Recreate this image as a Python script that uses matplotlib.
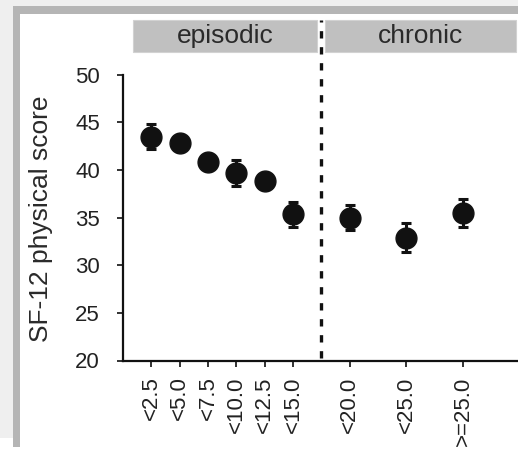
import matplotlib
matplotlib.use('Agg')
import matplotlib.pyplot as plt
from matplotlib.patches import Rectangle

plt.rcParams['font.family'] = ['Liberation Sans', 'DejaVu Sans']

# --- data ---
labels = ['<2.5', '<5.0', '<7.5', '<10.0', '<12.5', '<15.0', '<20.0', '<25.0', '>=25.0']
positions = [1, 2, 3, 4, 5, 6, 8, 10, 12]
scores = [43.5, 42.8, 40.8, 39.65, 38.85, 35.33, 35.0, 32.9, 35.5]
errors = [1.35, 0.7, 0.7, 1.35, 0.8, 1.3, 1.35, 1.55, 1.5]
groups = ['episodic', 'chronic']

W, H = 518, 449
fig = plt.figure(figsize=(W / 100, H / 100), dpi=100)
fig.patch.set_facecolor('white')

# page frame around the figure (light grey margin + darker border)
def px_rect(x0, y0, x1, y1, color):
    fig.patches.append(Rectangle((x0 / W, 1 - y1 / H), (x1 - x0) / W, (y1 - y0) / H,
                                 transform=fig.transFigure, color=color, lw=0, zorder=0))

px_rect(0, 0, W, 6, '#efefef')
px_rect(0, 0, 13, 438, '#efefef')
px_rect(13, 6, W, 14, '#b5b5b5')
px_rect(13, 6, 20, 447, '#b5b5b5')

# axes placement
ax_left, ax_top, ax_bottom = 123, 74.7, 360.5
unit = 28.33
ax = fig.add_axes([ax_left / W, 1 - ax_bottom / H, 1 - ax_left / W, (ax_bottom - ax_top) / H])
ax.set_xlim(0, (W - ax_left) / unit)
ax.set_ylim(20, 50)

ax.errorbar(positions, scores, yerr=errors, fmt='o', color='#111111', ms=15,
            mec='#111111', elinewidth=2.2, capsize=3.8, capthick=2.2, zorder=3)

ax.axvline(7, ymin=0.01, ymax=1.19, color='#111111', lw=2.4, dashes=(2.2, 2.6),
           clip_on=False, zorder=2)

# header strips
tr = ax.get_xaxis_transform()
strip_y0 = (ax_bottom - 52) / (ax_bottom - ax_top)
strip_y1 = (ax_bottom - 20) / (ax_bottom - ax_top)
strips = [(0.353, 6.85), (7.13, 13.87)]
for (x0, x1), name in zip(strips, groups):
    ax.add_patch(Rectangle((x0, strip_y0), x1 - x0, strip_y1 - strip_y0, transform=tr,
                           facecolor='#c0c0c0', edgecolor='#d2d2d2', lw=0.8,
                           clip_on=False, zorder=1))
    ax.text((x0 + x1) / 2, (strip_y0 + strip_y1) / 2, name, transform=tr,
            ha='center', va='center', fontsize=19, color='#2a2a2a')

ax.spines['top'].set_visible(False)
ax.spines['right'].set_visible(False)
for s in ['left', 'bottom']:
    ax.spines[s].set_linewidth(1.6)
    ax.spines[s].set_color('#111111')

ax.set_yticks(range(20, 51, 5))
ax.set_xticks(positions)
ax.set_xticklabels(labels, rotation=90)
ax.tick_params(axis='y', length=4.5, width=1.3, pad=12, labelsize=16, colors='#222222')
ax.tick_params(axis='x', length=4.5, width=1.3, pad=7, labelsize=16, colors='#222222')
ax.set_ylabel('SF-12 physical score', fontsize=19, color='#2a2a2a')
ax.yaxis.set_label_coords((53 - ax_left) / (W - ax_left), 0.495)

fig.savefig('out.png', dpi=100)
